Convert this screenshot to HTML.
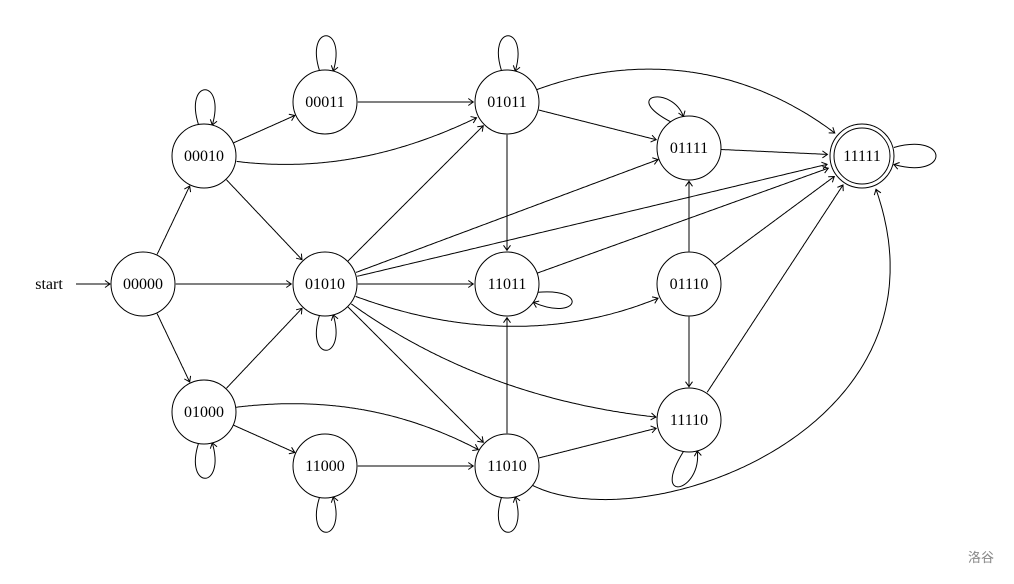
<!DOCTYPE html>
<html><head><meta charset="utf-8"><style>
body{margin:0;background:#fff;width:1014px;height:579px;overflow:hidden}
svg text{font-family:"Liberation Serif",serif;font-size:16px;fill:#000}
</style></head><body>
<svg id="s" width="1014" height="579" xmlns="http://www.w3.org/2000/svg">
<defs><marker id="a" markerWidth="10" markerHeight="10" refX="0" refY="0" viewBox="-6 -5 8 10" orient="auto" markerUnits="userSpaceOnUse">
<path d="M-5,-3.5 Q-1.5,-1 0,0 Q-1.5,1 -5,3.5" fill="none" stroke="#000" stroke-width="1"/></marker></defs>
<g id="e" fill="none" stroke="#000" stroke-width="1"></g>
<g id="n" fill="#fff" stroke="#000" stroke-width="1">
<circle cx="143" cy="284" r="32"/><circle cx="204" cy="156" r="32"/><circle cx="204" cy="412" r="32"/>
<circle cx="325" cy="102" r="32"/><circle cx="325" cy="284" r="32"/><circle cx="325" cy="466" r="32"/>
<circle cx="507" cy="102" r="32"/><circle cx="507" cy="284" r="32"/><circle cx="507" cy="466" r="32"/>
<circle cx="689" cy="148" r="32"/><circle cx="689" cy="284" r="32"/><circle cx="689" cy="420" r="32"/>
<circle cx="862" cy="156" r="32"/><circle cx="862" cy="156" r="28"/>
</g>
<g text-anchor="middle">
<text x="143" y="289">00000</text><text x="204" y="161">00010</text><text x="204" y="417">01000</text>
<text x="325" y="107">00011</text><text x="325" y="289">01010</text><text x="325" y="471">11000</text>
<text x="507" y="107">01011</text><text x="507" y="289">11011</text><text x="507" y="471">11010</text>
<text x="689" y="153">01111</text><text x="689" y="289">01110</text><text x="689" y="425">11110</text>
<text x="862" y="161">11111</text>
<text x="49" y="289">start</text>
</g>
<line x1="76" y1="284" x2="110" y2="284" stroke="#000" marker-end="url(#a)"/>
<text x="968" y="562" style="font-family:'Noto Sans CJK SC',sans-serif;font-size:13px;fill:#888">洛谷</text>
</svg>
<script>
var N={"00000":[143,284],"00010":[204,156],"01000":[204,412],"00011":[325,102],"01010":[325,284],"11000":[325,466],
"01011":[507,102],"11011":[507,284],"11010":[507,466],"01111":[689,148],"01110":[689,284],"11110":[689,420],"11111":[862,156]};
function R(k){return k=="11111"?33:32;}
var E=[["00000","00010"],["00000","01010"],["00000","01000"],["00010","00011"],["00010","01011",[320,180],[420,150]],
["00010","01010"],["01000","01010"],["01000","11000"],["01000","11010",[300,395],[400,400]],["00011","01011"],
["01010","01011"],["01010","11011"],["01010","01111"],["01010","11111"],["01010","01110",[430,330],[560,350]],
["01010","11110",[420,360],[540,410]],["01010","11010"],["11000","11010"],["01011","11011"],["01011","01111"],
["01011","11111",[640,40],[770,70]],["11011","11111"],["11010","11011"],["11010","11110"],["11010","11111",[590,565],[1000,440]],
["01111","11111"],["01110","01111"],["01110","11110"],["01110","11111"],["11110","11111"]];
var L=[["00010",-100,-75,[184,78],[226,78]],["00011",-100,-75,[305,24],[347,24]],["01011",-100,-75,[487,24],[529,24]],
["01010",100,75,[305,362],[347,362]],["01000",100,75,[184,490],[226,490]],["11000",100,75,[305,544],[347,544]],
["11010",100,75,[487,544],[529,544]],["11110",100,75,[650,505],[702,492]],["11111",-15,15,[950,132],[950,180]],
["11011",15,35,[590,288],[578,322]],["01111",-125,-100,[620,95],[672,85]]];
function cub(p0,p1,p2,p3,t){var u=1-t;return[u*u*u*p0[0]+3*u*u*t*p1[0]+3*u*t*t*p2[0]+t*t*t*p3[0],u*u*u*p0[1]+3*u*u*t*p1[1]+3*u*t*t*p2[1]+t*t*t*p3[1]];}
function d(a,b){return Math.hypot(a[0]-b[0],a[1]-b[1]);}
var g=document.getElementById("e"),ns="http://www.w3.org/2000/svg";
function draw(A,B,c1,c2,ra,rb){var pts=[],n=200;for(var i=0;i<=n;i++){var p=cub(A,c1,c2,B,i/n);if(d(p,A)>=ra&&d(p,B)>=rb)pts.push(p);}
var s="M"+pts.map(p=>p[0].toFixed(1)+","+p[1].toFixed(1)).join(" L");var e=document.createElementNS(ns,"path");e.setAttribute("d",s);e.setAttribute("marker-end","url(#a)");g.appendChild(e);}
E.forEach(function(x){var A=N[x[0]],B=N[x[1]];var c1=x[2]||[A[0]+(B[0]-A[0])/3,A[1]+(B[1]-A[1])/3],c2=x[3]||[A[0]+2*(B[0]-A[0])/3,A[1]+2*(B[1]-A[1])/3];draw(A,B,c1,c2,R(x[0]),R(x[1])+1);});
L.forEach(function(x){var C=N[x[0]],r=R(x[0]),a1=x[1]*Math.PI/180,a2=x[2]*Math.PI/180;
var P=[C[0]+r*Math.cos(a1),C[1]+r*Math.sin(a1)],Q=[C[0]+r*Math.cos(a2),C[1]+r*Math.sin(a2)];
var e=document.createElementNS(ns,"path");e.setAttribute("d","M"+P+" C"+x[3]+" "+x[4]+" "+Q);e.setAttribute("marker-end","url(#a)");g.appendChild(e);});
</script>
</body></html>
